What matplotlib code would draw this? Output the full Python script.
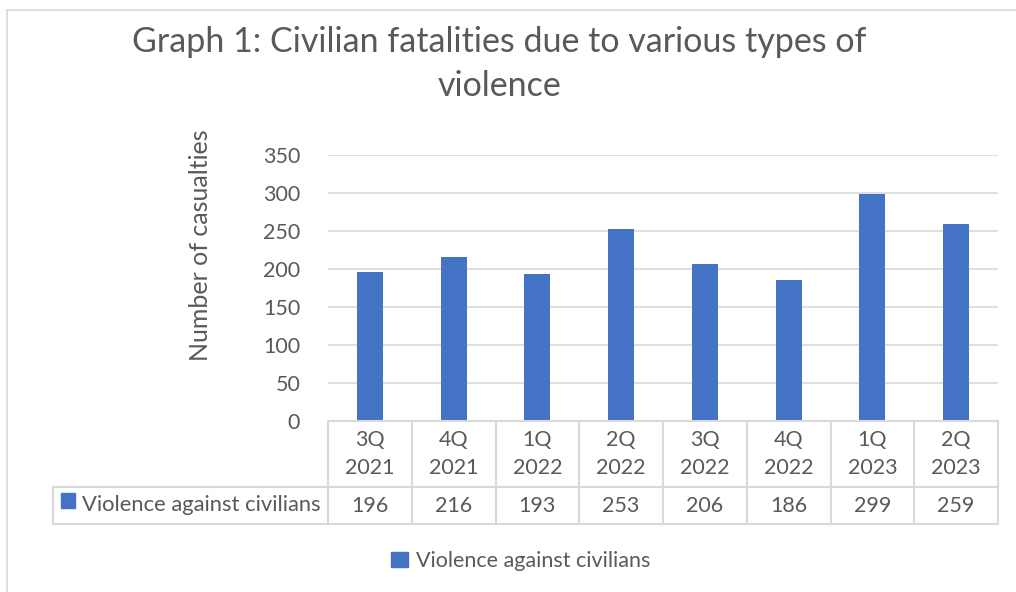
import numpy as np
import matplotlib.pyplot as plt
from matplotlib.lines import Line2D
from matplotlib.patches import Patch, Rectangle
from matplotlib.transforms import blended_transform_factory

quarters = ["3Q\n2021", "4Q\n2021", "1Q\n2022", "2Q\n2022", "3Q\n2022", "4Q\n2022", "1Q\n2023", "2Q\n2023"]
values = [196, 216, 193, 253, 206, 186, 299, 259]
series_name = "Violence against civilians"
title = "Graph 1: Civilian fatalities due to various types of\nviolence"
y_label = "Number of casualties"

W, H = 1016, 592
blue = "#4472c4"
txt = "#595959"
grid = "#d9d9d9"
fs = 15.5
plt.rcParams['font.family'] = ['Lato', 'DejaVu Sans']

fig = plt.figure(figsize=(W / 100, H / 100), dpi=100)

def fx(px):
    return px / W

def fy(py):
    return 1 - py / H

# chart border
fig.add_artist(Line2D([fx(7), fx(7)], [fy(10), fy(600)], color=grid, lw=1.2))
fig.add_artist(Line2D([fx(7), fx(1020)], [fy(10), fy(10)], color=grid, lw=1.2))

left, right, top, bottom = 328, 998, 155, 421
ax = fig.add_axes([fx(left), fy(bottom), fx(right - left), (bottom - top) / H])
x = np.arange(len(values))
ax.bar(x, values, width=0.31, color=blue, zorder=3)
ax.set_xlim(-0.5, len(values) - 0.5)
ax.set_ylim(0, 350)
ax.set_yticks(range(0, 351, 50))
ax.yaxis.grid(True, color=grid, lw=1.2, zorder=0)
ax.set_xticks([])
for s in ax.spines.values():
    s.set_visible(False)
ax.tick_params(axis='y', length=0, labelsize=fs, labelcolor=txt, pad=20)

fig.text(fx(201), fy(245), y_label, rotation=90, ha='center', va='center', fontsize=18, color=txt)
fig.text(fx(499), fy(64), title, ha='center', va='center', fontsize=24.5, color=txt, linespacing=1.45)

# data table
tr = blended_transform_factory(ax.transData, fig.transFigure)
row1, row2, row3 = 421, 487, 524
lab_left = 53
for xe in np.arange(len(values) + 1) - 0.5:
    fig.add_artist(Line2D([xe, xe], [fy(row1), fy(row3)], color=grid, lw=1.5, transform=tr))
fig.add_artist(Line2D([fx(left), fx(right)], [fy(row1), fy(row1)], color=grid, lw=1.5))
fig.add_artist(Line2D([fx(lab_left), fx(right)], [fy(row2), fy(row2)], color=grid, lw=1.5))
fig.add_artist(Line2D([fx(lab_left), fx(right)], [fy(row3), fy(row3)], color=grid, lw=1.5))
fig.add_artist(Line2D([fx(lab_left), fx(lab_left)], [fy(row2), fy(row3)], color=grid, lw=1.5))

for i, (q, v) in enumerate(zip(quarters, values)):
    fig.text(i, fy(454), q, transform=tr, ha='center', va='center',
             fontsize=fs, color=txt, linespacing=1.55)
    fig.text(i, fy(506), str(v), transform=tr, ha='center', va='center',
             fontsize=fs, color=txt)

fig.add_artist(Rectangle((fx(61), fy(508)), fx(14), 15 / H, color=blue))
fig.text(fx(82), fy(505), series_name, ha='left', va='center', fontsize=15.8, color=txt)

fig.legend(handles=[Patch(color=blue, label=series_name)], loc='center',
           bbox_to_anchor=(fx(521), fy(561)), frameon=False, fontsize=fs,
           labelcolor=txt, handlelength=0.75, handleheight=0.75, handletextpad=0.4)

plt.savefig("out.png", dpi=100)
